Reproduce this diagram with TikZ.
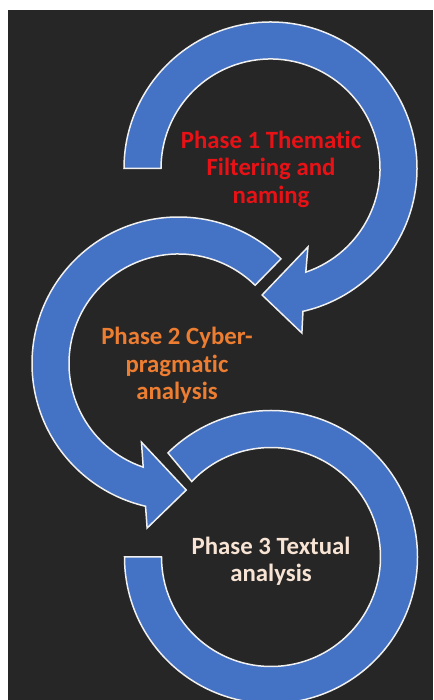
\documentclass[tikz,border=0pt]{standalone}
\usepackage{fontspec}
\setmainfont{Carlito}[Ligatures=NoCommon]
\usetikzlibrary{calc}
\definecolor{bgdark}{RGB}{38,38,38}
\definecolor{arrowblue}{RGB}{68,114,196}
\definecolor{edgewhite}{RGB}{240,240,240}
\definecolor{phasered}{RGB}{232,18,22}
\definecolor{phaseorange}{RGB}{237,125,49}
\definecolor{phasecream}{RGB}{248,228,212}
\tikzset{
  cyclearrow/.style={fill=arrowblue, draw=edgewhite, line width=1.5pt, line join=miter},
  phasetext/.style={align=center, font=\fontsize{24.8}{27.3}\selectfont\bfseries, inner sep=0pt}
}
\begin{document}
\begin{tikzpicture}[x=1pt,y=1pt]
\useasboundingbox[fill=white] (0,0) rectangle (433,700);
\fill[bgdark] (8,0) rectangle (433,690);
\coordinate (C1) at (270.5,531.5);
\coordinate (C2) at (178.5,336.5);
\coordinate (C3) at (271,143);
\begin{scope}
\clip (8,0) rectangle (433,690);
% arrow 3
\draw[cyclearrow] ($(C3)+(180:146.5)$) arc[start angle=180, end angle=494.7, radius=146.5]
  -- ($(C3)+(496.4:109.5)$) arc[start angle=496.4, end angle=180, radius=109.5] -- cycle;
% arrow 2
\draw[cyclearrow] ($(C2)+(45.6:146.5)$) arc[start angle=45.6, end angle=257.0, radius=146.5]
  -- ($(C2)+(259.2:167.5)$) -- ($(C2)+(273.5:126.8)$) -- ($(C2)+(244.8:87)$)
  -- ($(C2)+(251.2:109.5)$) arc[start angle=251.2, end angle=45.6, radius=109.5] -- cycle;
% arrow 1
\draw[cyclearrow] ($(C1)+(180:146.5)$) arc[start angle=180, end angle=-77.2, radius=146.5]
  -- ($(C1)+(-79.2:167.5)$) -- ($(C1)+(-93.8:126.8)$) -- ($(C1)+(-64.5:87)$)
  -- ($(C1)+(-71.2:109.5)$) arc[start angle=-71.2, end angle=180, radius=109.5] -- cycle;
\end{scope}
\node[phasetext, text=phasered] (p1) at (271,530.6) {Phase 1 Thematic\\Filtering and\\naming};
\node[phasetext, text=phaseorange] (p2) at (177,334.6) {Phase 2 Cyber-\\pragmatic\\analysis};
\node[phasetext, text=phasecream] (p3) at (271,138.7) {Phase 3 Textual\\analysis};
\end{tikzpicture}
\end{document}
